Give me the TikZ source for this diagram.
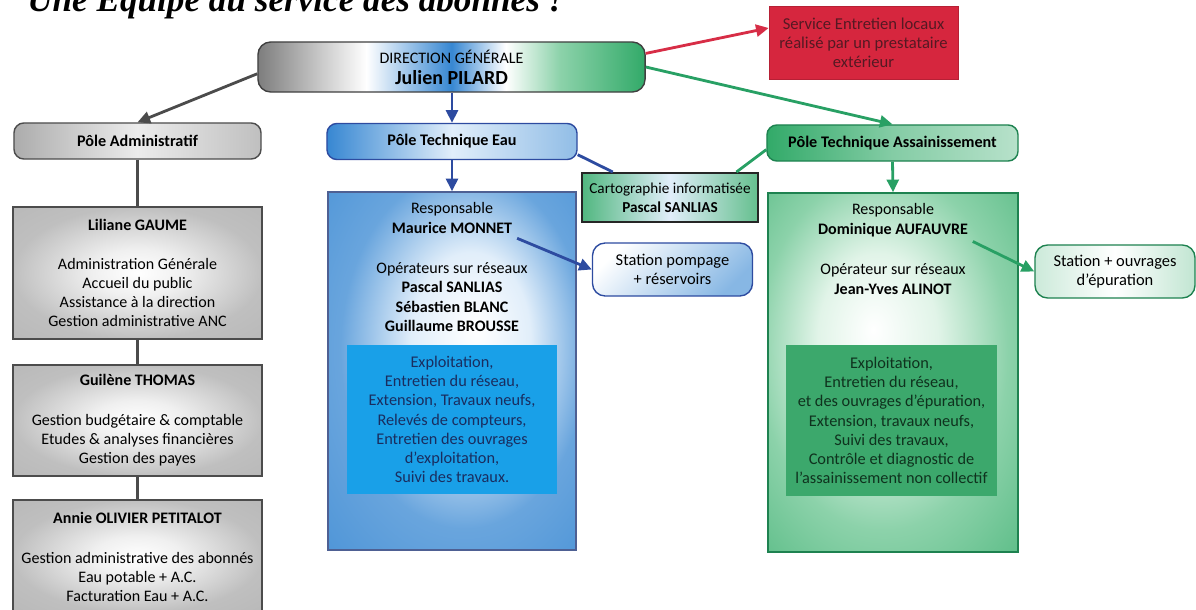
\documentclass[tikz,border=0pt]{standalone}
\usepackage{fontspec}
\setmainfont{Carlito}
\newfontfamily\titlefont{Liberation Serif}
\usetikzlibrary{arrows.meta}

\definecolor{dirgray}{RGB}{125,125,125}
\definecolor{lightgray}{RGB}{200,200,200}
\definecolor{admline}{RGB}{75,75,75}
\definecolor{eaublue}{RGB}{55,135,210}
\definecolor{eaulight}{RGB}{225,238,250}
\definecolor{eaudark}{RGB}{45,75,160}
\definecolor{eauinner}{RGB}{25,160,232}
\definecolor{assgreen}{RGB}{50,170,105}
\definecolor{assmid}{RGB}{140,210,170}
\definecolor{asslight}{RGB}{225,244,232}
\definecolor{assdark}{RGB}{30,130,80}
\definecolor{assinner}{RGB}{60,168,108}
\definecolor{assline}{RGB}{40,160,100}
\definecolor{redbox}{RGB}{214,38,62}
\definecolor{redline}{RGB}{215,45,70}
\definecolor{redtext}{RGB}{85,25,35}
\definecolor{navytext}{RGB}{25,45,95}
\definecolor{greentext}{RGB}{15,50,30}
\colorlet{admlight}{gray!12}
\colorlet{admmid}{gray!50}
\colorlet{admedge}{gray!62}
\colorlet{eaumid}{eaublue!75}

\pgfdeclarehorizontalshading{dirshade}{100bp}{color(0bp)=(dirgray); color(25bp)=(dirgray); color(33bp)=(lightgray); color(39bp)=(white); color(50bp)=(eaublue); color(57bp)=(white); color(64bp)=(assmid); color(75bp)=(assgreen); color(100bp)=(assgreen)}
\pgfdeclareradialshading{grayglow}{\pgfpoint{0bp}{0bp}}{color(0bp)=(white); color(9bp)=(admlight); color(25bp)=(admmid); color(50bp)=(admedge)}
\pgfdeclareradialshading{blueglow}{\pgfpoint{5bp}{6bp}}{color(0bp)=(white); color(12bp)=(eaulight); color(25bp)=(eaumid); color(50bp)=(eaublue)}
\pgfdeclareradialshading{greenglow}{\pgfpoint{-4bp}{6bp}}{color(0bp)=(white); color(12bp)=(asslight); color(25bp)=(assmid); color(50bp)=(assgreen)}

\begin{document}
\begin{tikzpicture}[x=0.025cm,y=-0.025cm,
    pole/.style={draw,rounded corners=7pt,line width=1pt,minimum height=0.9cm,
                 font=\bfseries\fontsize{11.5}{13}\selectfont},
    admbox/.style={draw=black!70,line width=1pt,shading=grayglow,
                   minimum width=6.225cm,align=center,font=\fontsize{11.4}{13.5}\selectfont},
    bigbox/.style={draw,line width=1pt,minimum width=6.2cm,minimum height=8.95cm},
    stationbox/.style={draw,rounded corners=9pt,line width=1pt,minimum width=4cm,
                       minimum height=1.325cm,align=center,font=\fontsize{11.7}{13}\selectfont},
    tasks/.style={align=center,font=\fontsize{11.6}{13.7}\selectfont,
                  minimum width=5.25cm,minimum height=3.725cm},
    txt/.style={align=center,font=\fontsize{11.4}{13.8}\selectfont}]
\useasboundingbox (0,0) rectangle (1196,610);

\node (title)[anchor=base west,inner sep=0pt,
      font=\titlefont\bfseries\itshape\fontsize{25}{28}\selectfont] at (27,12)
      {Une Équipe au service des abonnés !};

% direction
\node (dir)[draw=black!75,rounded corners=9pt,line width=1pt,shading=dirshade,
      minimum width=9.675cm,minimum height=1.25cm,align=center] at (451.5,67)
      {\fontsize{11.4}{12}\selectfont DIRECTION GÉNÉRALE\\[3pt]
       \bfseries\fontsize{14.2}{15}\selectfont Julien PILARD};
\node (red)[fill=redbox,draw=redbox!85!black,minimum width=4.725cm,minimum height=1.825cm,
      align=center,text=redtext,font=\fontsize{11.8}{13.5}\selectfont] at (863.5,43)
      {Service Entretien locaux\\réalisé par un prestataire\\extérieur};

% poles
\node (padm)[pole,draw=black!70,left color=gray!65,right color=gray!50,middle color=gray!15,
      minimum width=6.175cm] at (137.5,141) {Pôle Administratif};
\node (peau)[pole,draw=eaudark,left color=eaublue,right color=eaublue!55,middle color=eaulight,
      minimum width=6.25cm] at (452,141.5) {Pôle Technique Eau};
\node (pass)[pole,draw=assdark,left color=assgreen,right color=assgreen!35,middle color=assgreen!60,
      minimum width=6.275cm] at (892.5,143) {Pôle Technique Assainissement};

% pole administratif
\node (lil)[admbox,minimum height=3.3cm] at (137.5,273)
      {\textbf{Liliane GAUME}\\[14pt]Administration Générale\\Accueil du public\\
       Assistance à la direction\\Gestion administrative ANC};
\node (gui)[admbox,minimum height=2.775cm] at (137.5,420.5)
      {\textbf{Guilène THOMAS}\\[15pt]Gestion budgétaire \& comptable\\
       Etudes \& analyses financières\\Gestion des payes};
\node (ann)[admbox,minimum height=2.825cm] at (137.5,556.5)
      {\textbf{Annie OLIVIER PETITALOT}\\[15pt]Gestion administrative des abonnés\\
       Eau potable + A.C.\\Facturation Eau + A.C.};

% pole eau
\node (eaubox)[bigbox,draw=eaudark!60!gray,shading=blueglow] at (452,371) {};
\node (eauresp)[txt] at (452,218) {Responsable\\\textbf{Maurice MONNET}};
\node (eauops)[txt] at (452,297)
      {Opérateurs sur réseaux\\\textbf{Pascal SANLIAS}\\\textbf{Sébastien BLANC}\\
       \textbf{Guillaume BROUSSE}};
\node (eautasks)[tasks,fill=eauinner,text=navytext] at (452,419.5)
      {Exploitation,\\Entretien du réseau,\\Extension, Travaux neufs,\\Relevés de compteurs,\\
       Entretien des ouvrages\\d’exploitation,\\Suivi des travaux.};
\node (carto)[draw=black!85,line width=1.4pt,left color=assgreen!85,right color=assgreen!75,
      middle color=eaulight,minimum width=4.4cm,minimum height=1.225cm,align=center,
      font=\fontsize{10.8}{13.8}\selectfont] at (670,197.5)
      {Cartographie informatisée\\\textbf{Pascal SANLIAS}};
\node (pompage)[stationbox,draw=eaudark,top color=white,bottom color=eaublue!60,shading angle=45]
      at (672.5,269.5) {Station pompage\\+ réservoirs};

% pole assainissement
\node (assbox)[bigbox,minimum width=6.25cm,minimum height=8.975cm,draw=assdark,
      shading=greenglow] at (893,372.5) {};
\node (assresp)[txt] at (893,220) {Responsable\\\textbf{Dominique AUFAUVRE}};
\node (assops)[txt] at (893,279) {Opérateur sur réseaux\\\textbf{Jean-Yves ALINOT}};
\node (asstasks)[tasks,minimum width=5.275cm,minimum height=3.775cm,fill=assinner,text=greentext]
      at (891.5,420.5)
      {Exploitation,\\Entretien du réseau,\\et des ouvrages d’épuration,\\
       Extension, travaux neufs,\\Suivi des travaux,\\Contrôle et diagnostic de\\
       l’assainissement non collectif};
\node (epur)[stationbox,draw=assdark,left color=assgreen!25,right color=assgreen!30,middle color=white]
      at (1115,271.5) {Station + ouvrages\\d’épuration};

\begin{scope}[every edge/.style={draw,line width=2pt},
              >={Triangle[length=9pt,width=8.5pt]}]
    \path (dir.182) edge[->,draw=admline] (padm.north);
    \path (dir.south -| peau.north) edge[->,draw=eaudark] (peau.north);
    \path (dir.4) edge[->,draw=redline] (red.171);
    \path (dir.east) edge[->,draw=assline] (pass.north);
    \path (padm.south) edge[draw=admline] (lil.north);
    \path (lil.south) edge[draw=admline] (gui.north);
    \path (gui.south) edge[draw=admline] (ann.north);
    \path (peau.south) edge[->,draw=eaudark] (eaubox.north);
    \path (peau.-6) edge[draw=eaudark] (carto.156);
    \path (pass.183) edge[draw=assline] (carto.21);
    \path (eauresp.south east) edge[->,draw=eaudark] (pompage.west);
    \path (pass.south) edge[->,draw=assline] (assbox.north);
    \path (assresp.south east) edge[->,draw=assline] (epur.west);
\end{scope}
\end{tikzpicture}
\end{document}
